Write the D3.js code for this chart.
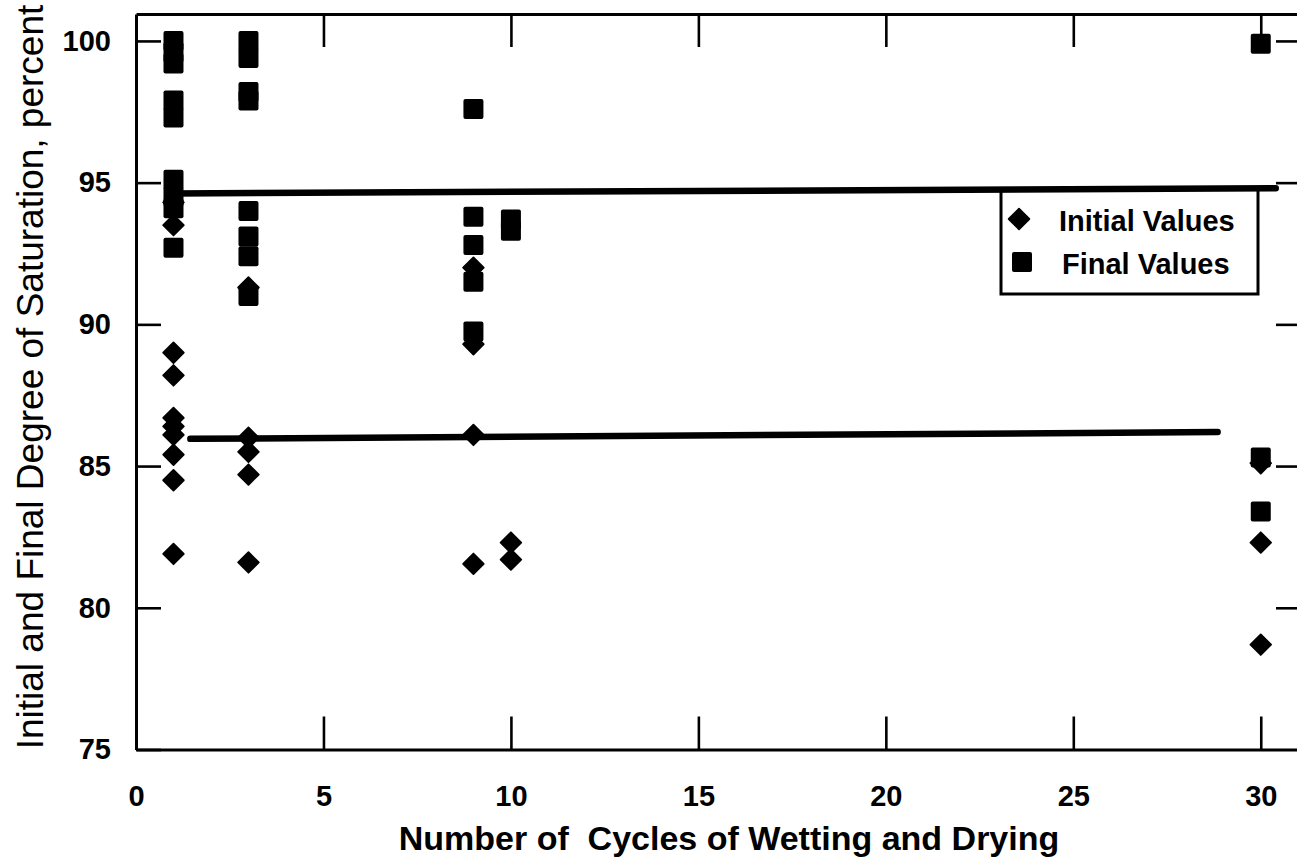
<!DOCTYPE html>
<html>
<head>
<meta charset="utf-8">
<script src="https://cdn.jsdelivr.net/npm/d3@7"></script>
<style>
  html, body { margin: 0; padding: 0; background: #fff; }
  svg { display: block; }
  text { font-family: "Liberation Sans", Arial, Helvetica, sans-serif; fill: #000; }
</style>
</head>
<body>
<svg id="chart" width="1297" height="865"></svg>
<script>
// ---- data ----
const xTickValues = [0, 5, 10, 15, 20, 25, 30];
const yTickValues = [75, 80, 85, 90, 95, 100];
const cycles = [1, 3, 9, 10, 30];
const initialValues = [
  [94.3, 93.5, 89.0, 88.2, 86.7, 86.4, 86.1, 85.4, 84.5, 81.9],
  [91.3, 86.0, 85.5, 84.7, 81.6],
  [92.0, 89.3, 86.1, 81.55],
  [82.3, 81.7],
  [85.1, 82.3, 78.7]
];
const finalValues = [
  [100.0, 99.6, 99.2, 97.9, 97.3, 95.1, 94.5, 94.1, 92.7],
  [100.0, 99.4, 98.2, 97.9, 94.0, 93.1, 92.4, 91.0],
  [97.6, 93.8, 92.8, 91.5, 89.75],
  [93.7, 93.3],
  [99.9, 85.3, 83.4]
];
const finalMeanLine = [[1.0, 94.62], [30.4, 94.8]];
const initialMeanLine = [[1.45, 85.96], [28.85, 86.2]];
const legendLabels = ["Initial Values", "Final Values"];
const xTitle = "Number of\u00A0 Cycles of Wetting and Drying";
const yTitle = "Initial and Final Degree of Saturation, percent";

// ---- layout ----
const svg = d3.select("#chart");
const x = d3.scaleLinear().domain([0, 31.1]).range([136, 1302]);
const y = d3.scaleLinear().domain([75, 100.95]).range([749.5, 14]);

const initialPts = [], finalPts = [];
cycles.forEach((c, i) => {
  initialValues[i].forEach(v => initialPts.push({x: c, y: v}));
  finalValues[i].forEach(v => finalPts.push({x: c, y: v}));
});

// axes
const axStyle = g => {
  g.select(".domain").attr("stroke", "#000").attr("stroke-width", 3);
  g.selectAll(".tick line").attr("stroke", "#000").attr("stroke-width", 2.6);
  g.selectAll(".tick text").style("font-size", "29px").style("font-weight", "bold")
    .style("font-family", "'Liberation Sans', Arial, sans-serif");
};

svg.append("g").attr("transform", `translate(0,${y(75)})`)
  .call(d3.axisBottom(x).tickValues(xTickValues).tickSizeInner(-33).tickSizeOuter(0).tickPadding(36))
  .call(axStyle);
svg.append("g").attr("transform", `translate(0,${y(100.95)})`)
  .call(d3.axisTop(x).tickValues(xTickValues.slice(1)).tickSizeInner(-33).tickSizeOuter(0).tickFormat(""))
  .call(axStyle);
svg.append("g").attr("transform", `translate(${x(0)},0)`)
  .call(d3.axisLeft(y).tickValues(yTickValues).tickSizeInner(-25).tickSizeOuter(0).tickPadding(25))
  .call(axStyle);
svg.append("g").attr("transform", `translate(${x(31.1)},0)`)
  .call(d3.axisRight(y).tickValues(yTickValues.slice(1)).tickSizeInner(-26).tickSizeOuter(0).tickFormat(""))
  .call(axStyle);

// axis titles
svg.append("text")
  .attr("x", 729).attr("y", 850)
  .attr("text-anchor", "middle")
  .style("font-size", "34px").style("font-weight", "bold")
  .text(xTitle);
svg.append("text")
  .attr("transform", `translate(43,377) rotate(-90)`)
  .attr("text-anchor", "middle")
  .style("font-size", "37px")
  .text(yTitle);

// legend box (under the upper line)
const lg = svg.append("g");
lg.append("rect").attr("x", 1001).attr("y", 189).attr("width", 257).attr("height", 105)
  .attr("fill", "#fff").attr("stroke", "#000").attr("stroke-width", 3);

// mean lines
const line = d3.line().x(d => x(d[0])).y(d => y(d[1]));
[finalMeanLine, initialMeanLine].forEach(l => {
  svg.append("path").attr("d", line(l)).attr("fill", "none")
    .attr("stroke", "#000").attr("stroke-width", 6.5).attr("stroke-linecap", "round");
});

// markers
const diamond = (cx, cy, r) => `M${cx},${cy - r}L${cx + r},${cy}L${cx},${cy + r}L${cx - r},${cy}Z`;
svg.append("g").selectAll("rect").data(finalPts).join("rect")
  .attr("x", d => x(d.x) - 10).attr("y", d => y(d.y) - 10)
  .attr("width", 20).attr("height", 20).attr("rx", 2)
  .attr("fill", "#000");
svg.append("g").selectAll("path").data(initialPts).join("path")
  .attr("d", d => diamond(x(d.x), y(d.y), 10.3))
  .attr("fill", "#000").attr("stroke", "#000").attr("stroke-width", 1.8).attr("stroke-linejoin", "round");

// legend entries
lg.append("path").attr("d", diamond(1019, 219, 10.3))
  .attr("fill", "#000").attr("stroke", "#000").attr("stroke-width", 1.8).attr("stroke-linejoin", "round");
lg.append("rect").attr("x", 1012).attr("y", 252).attr("width", 20).attr("height", 20).attr("rx", 2).attr("fill", "#000");
lg.append("text").attr("x", 1059).attr("y", 231).style("font-size", "29px").style("font-weight", "bold").text(legendLabels[0]);
lg.append("text").attr("x", 1062).attr("y", 274).style("font-size", "29px").style("font-weight", "bold").text(legendLabels[1]);
</script>
</body>
</html>
